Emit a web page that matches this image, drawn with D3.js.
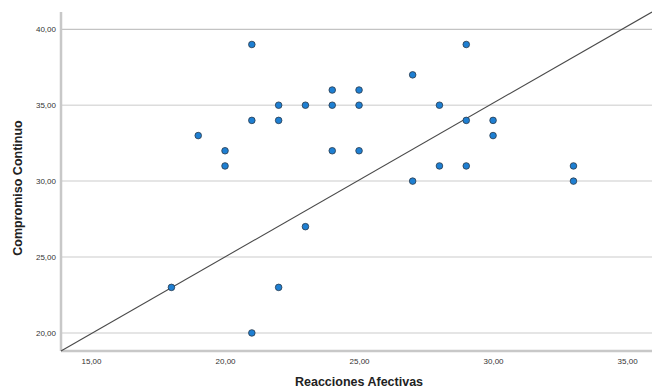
<!DOCTYPE html>
<html><head><meta charset="utf-8">
<script src="https://cdn.jsdelivr.net/npm/d3@7/dist/d3.min.js"></script>
<style>body{margin:0;background:#fff}svg{display:block}</style>
</head><body>
<svg id="c" width="652" height="389"></svg>
<script>
const xValues = [18,19,20,20,21,21,21,22,22,22,23,23,24,24,24,25,25,25,27,27,28,28,29,29,29,30,30,33,33];
const yValues = [23,33,32,31,39,34,20,35,34,23,35,27,36,35,32,36,35,32,37,30,35,31,39,34,31,34,33,31,30];
const xTicks = [15,20,25,30,35];
const yTicks = [20,25,30,35,40];
const refLineX = [13.88, 35.93];
const refLineY = [18.81, 41.14];
const xTitle = "Reacciones Afectivas";
const yTitle = "Compromiso Continuo";

const svg = d3.select("#c");
const L = 61, R = 652, T = 12, B = 351;
const x = d3.scaleLinear().domain([13.88, 35.93]).range([L, R]);
const y = d3.scaleLinear().domain([18.81, 41.14]).range([B, T]);
const fmt = d => d3.format(".2f")(d).replace(".", ",");

// gridlines
svg.append("g").selectAll("line").data(yTicks).join("line")
  .attr("x1", L).attr("x2", R)
  .attr("y1", d => y(d)).attr("y2", d => y(d))
  .attr("stroke", d => d === 40 ? "#b4b4b4" : "#dcdcdc")
  .attr("stroke-width", d => d === 40 ? 1 : 1.5);

// axes
const yAxis = svg.append("g").attr("transform", `translate(${L},0)`)
  .call(d3.axisLeft(y).tickValues(yTicks).tickFormat(fmt).tickSize(0).tickPadding(5));
const xAxis = svg.append("g").attr("transform", `translate(0,${B})`)
  .call(d3.axisBottom(x).tickValues(xTicks).tickFormat(fmt).tickSize(0).tickPadding(7));
[xAxis, yAxis].forEach(a => {
  a.select(".domain").attr("stroke", "#c8c8c8").attr("stroke-width", 2.5);
  a.selectAll("text").attr("font-family", "Liberation Sans, Arial, sans-serif")
    .attr("font-size", 8).attr("fill", "#333");
});
yAxis.select(".domain").attr("d", `M0,${B}V${T}`);
xAxis.select(".domain").attr("d", `M${L},0H${R}`);

// reference line
svg.append("line")
  .attr("x1", x(refLineX[0])).attr("y1", y(refLineY[0]))
  .attr("x2", x(refLineX[1])).attr("y2", y(refLineY[1]))
  .attr("stroke", "#4a4a4a").attr("stroke-width", 1.1);

// points
svg.append("g").selectAll("circle").data(xValues.map((v, i) => [v, yValues[i]])).join("circle")
  .attr("cx", d => x(d[0])).attr("cy", d => y(d[1])).attr("r", 3.3)
  .attr("fill", "#1e7fd2").attr("stroke", "#2b3a4a").attr("stroke-width", 0.8);

// titles
svg.append("text").attr("x", 359).attr("y", 386)
  .attr("text-anchor", "middle").attr("font-family", "Liberation Sans, Arial, sans-serif")
  .attr("font-size", 12.5).attr("font-weight", "bold").attr("fill", "#222").text(xTitle);
svg.append("text").attr("transform", "translate(22,188) rotate(-90)")
  .attr("text-anchor", "middle").attr("font-family", "Liberation Sans, Arial, sans-serif")
  .attr("font-size", 12.5).attr("font-weight", "bold").attr("fill", "#222").text(yTitle);
</script>
</body></html>
